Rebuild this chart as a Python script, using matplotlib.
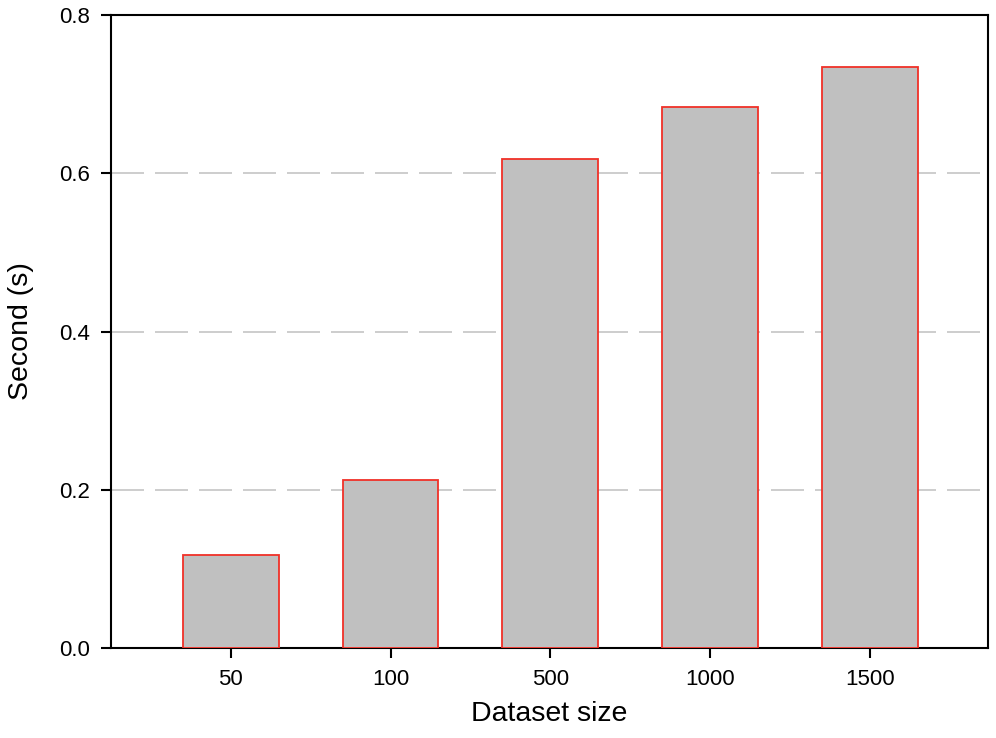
import matplotlib
matplotlib.use("Agg")
import matplotlib.pyplot as plt

categories = ["50", "100", "500", "1000", "1500"]
seconds = [0.1175, 0.2123, 0.618, 0.6837, 0.7347]
yticks = [0.0, 0.2, 0.4, 0.6, 0.8]
ytick_labels = ["0.0", "0.2", "0.4", "0.6", "0.8"]

plt.rcParams['font.family'] = ['Liberation Sans', 'DejaVu Sans']

fig = plt.figure(figsize=(9.96, 7.38), dpi=100)
ax = fig.add_axes([111/996, 1-648/738, (988-111)/996, (648-15)/738])

x = list(range(len(categories)))
ax.bar(x, seconds, width=0.6, color='#c0c0c0', edgecolor='#f03028', linewidth=1.3, zorder=3)

ax.set_xlim(-0.75, 4.74)
ax.set_ylim(0, 0.8)
ax.set_xticks(x)
ax.set_xticklabels(categories)
ax.set_yticks(yticks)
ax.set_yticklabels(ytick_labels)

for y in yticks[1:-1]:
    ax.axhline(y, color='#c0c0c0', linewidth=1.1, linestyle=(0, (21.6, 7.2)), zorder=1)

for s in ax.spines.values():
    s.set_linewidth(1.5)
    s.set_color('black')

ax.tick_params(axis='both', direction='out', length=7, width=1.5, labelsize=16, pad=8, color='black')
ax.set_xlabel("Dataset size", fontsize=20.5, labelpad=8)
ax.set_ylabel("Second (s)", fontsize=20.5, labelpad=18)

fig.savefig("out.png", dpi=100)
